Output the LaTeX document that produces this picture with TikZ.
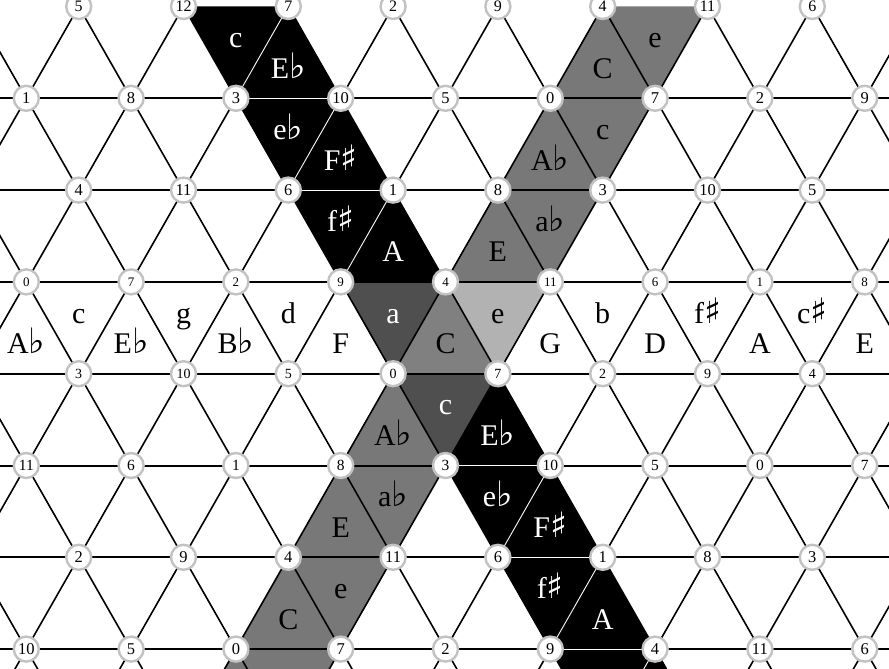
\documentclass[tikz,border=0pt]{standalone}
\usepackage{fontspec}
\setmainfont{Liberation Serif}
\newfontfamily\musicfont{DejaVu Sans}
\usepackage{tikz}
\usetikzlibrary{calc}
\definecolor{bandgray}{gray}{0.47}
\definecolor{midgray}{gray}{0.50}
\definecolor{deepgray}{gray}{0.31}
\definecolor{palegray}{gray}{0.70}
\newcommand{\flt}{{\musicfont\fontsize{35}{35}\selectfont\char"266D}}
\newcommand{\shp}{{\musicfont\fontsize{35}{35}\selectfont\char"266F}}

\begin{document}
\begin{tikzpicture}[x=1pt, y=-1pt,
  pc/.style={circle, draw=black!24, line width=2.4pt, fill=white, minimum size=25pt, inner sep=0pt},
  latline/.style={line width=1.6pt},
  hline/.style={line width=2pt},
  seam/.style={draw=white, line width=0.9pt},
  chord/.style={anchor=base, inner sep=0pt, font=\fontsize{30}{30}\selectfont},
  onblack/.style={chord, text=white}
]
%% Frame
\useasboundingbox (0,0) rectangle (889,669);
\fill[white] (0,0) rectangle (889,669);
\clip (0,0) rectangle (889,669);

%% Lattice points
\foreach \row in {0,...,8} {
  \foreach \k [evaluate=\k as \col using {int(2*\k+1-mod(\row,2))}] in {-2,...,10} {
    \coordinate (v-\row-\col) at (26.3+52.4*\col, 6.5+91.8*\row);
  }
}

%% Shaded triads (down-pointing, then up-pointing)
\foreach \fc/\row/\col in {black/0/4, black/1/5, black/2/6, deepgray/3/7, palegray/3/9,
    deepgray/4/8, black/5/9, black/6/10, black/7/11, bandgray/0/12, bandgray/1/11,
    bandgray/2/10, bandgray/5/7, bandgray/6/6, bandgray/7/5} {
  \pgfmathtruncatemacro{\rb}{\row+1}
  \pgfmathtruncatemacro{\cl}{\col-1}
  \pgfmathtruncatemacro{\cr}{\col+1}
  \fill[\fc] (v-\row-\cl) -- (v-\row-\cr) -- (v-\rb-\col) -- cycle;
}
\foreach \fc/\row/\col in {black/0/5, black/1/6, black/2/7, midgray/3/8, bandgray/4/7,
    black/4/9, black/5/10, black/6/11, black/7/12, bandgray/0/11, bandgray/1/10,
    bandgray/2/9, bandgray/5/6, bandgray/6/5, bandgray/7/4} {
  \pgfmathtruncatemacro{\rb}{\row+1}
  \pgfmathtruncatemacro{\cl}{\col-1}
  \pgfmathtruncatemacro{\cr}{\col+1}
  \fill[\fc] (v-\row-\col) -- (v-\rb-\cl) -- (v-\rb-\cr) -- cycle;
}

%% Horizontal lines
\foreach \row in {1,...,8} {
  \foreach \k [evaluate=\k as \col using {int(2*\k+1-mod(\row,2))},
               evaluate=\k as \nx using {int(2*\k+3-mod(\row,2))}] in {-1,...,8} {
    \draw[hline] (v-\row-\col) -- (v-\row-\nx);
  }
}

%% Diagonal lines
\foreach \row in {0,...,7} {
  \pgfmathtruncatemacro{\rb}{\row+1}
  \foreach \k [evaluate=\k as \col using {int(2*\k+1-mod(\row,2))}] in {-1,...,9} {
    \pgfmathtruncatemacro{\cl}{\col-1}
    \pgfmathtruncatemacro{\cr}{\col+1}
    \draw[latline] (v-\row-\col) -- (v-\rb-\cl);
    \draw[latline] (v-\row-\col) -- (v-\rb-\cr);
  }
}

%% Seams inside the black strip
\foreach \a/\b in {0-5/1-4, 1-4/1-6, 1-6/2-5, 2-5/2-7, 2-7/3-6, 5-8/5-10, 5-10/6-9,
    6-9/6-11, 6-11/7-10, 7-10/7-12, 7-12/8-11} {
  \draw[seam] (v-\a) -- (v-\b);
}

%% Triad names (o=1 down, o=2 up)
\foreach \t/\row/\col/\o/\s in {c/0/4/1/onblack, E\flt/0/5/2/onblack, C/0/11/2/chord, e/0/12/1/chord,
    e\flt/1/5/1/onblack, F\shp/1/6/2/onblack, A\flt/1/10/2/chord, c/1/11/1/chord,
    f\shp/2/6/1/onblack, A/2/7/2/onblack, E/2/9/2/chord, a\flt/2/10/1/chord,
    A\flt/3/0/2/chord, c/3/1/1/chord, E\flt/3/2/2/chord, g/3/3/1/chord, B\flt/3/4/2/chord,
    d/3/5/1/chord, F/3/6/2/chord, a/3/7/1/onblack, C/3/8/2/chord, e/3/9/1/chord,
    G/3/10/2/chord, b/3/11/1/chord, D/3/12/2/chord, f\shp/3/13/1/chord, A/3/14/2/chord,
    c\shp/3/15/1/chord, E/3/16/2/chord,
    A\flt/4/7/2/chord, c/4/8/1/onblack, E\flt/4/9/2/onblack,
    E/5/6/2/chord, a\flt/5/7/1/chord, e\flt/5/9/1/onblack, F\shp/5/10/2/onblack,
    C/6/5/2/chord, e/6/6/1/chord, f\shp/6/10/1/onblack, A/6/11/2/onblack} {
  \node[\s] (t-\row-\col) at (26.3+52.4*\col, 6.5+91.8*\row+30.6*\o+10.5) {\t};
}

%% Pitch-class nodes
\foreach \row/\fs in {0/16, 1/16.5, 2/16.5, 3/13, 4/14, 5/15.5, 6/16.5, 7/16.5, 8/16} {
  \foreach \k [evaluate=\k as \col using {int(2*\k+1-mod(\row,2))}] in {-1,...,9} {
    \pgfmathtruncatemacro{\p}{Mod((7*\col-\row+3)/2,12)}
    \ifnum\row=0 \ifnum\col=3 \def\p{12}\fi\fi
    \node[pc, font=\fontsize{\fs}{\fs}\selectfont] (n-\row-\col) at (v-\row-\col) {\p};
  }
}
\end{tikzpicture}
\end{document}
